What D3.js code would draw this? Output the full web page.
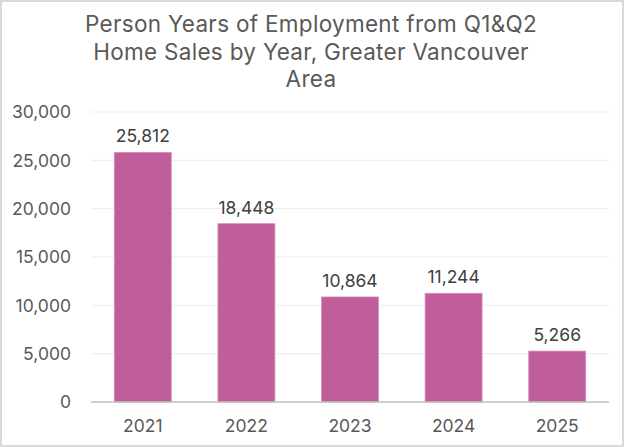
<!DOCTYPE html>
<html>
<head>
<meta charset="utf-8">
<script src="https://cdn.jsdelivr.net/npm/d3@7"></script>
<style>
  body { margin: 0; background: #fff; }
  svg { display: block; font-family: Inter, "Noto Sans", sans-serif; }
</style>
</head>
<body>
<svg id="chart"></svg>
<script>
// data
const years = ["2021", "2022", "2023", "2024", "2025"];
const personYears = [25812, 18448, 10864, 11244, 5266];
const yTicks = [0, 5000, 10000, 15000, 20000, 25000, 30000];
const titleLines = ["Person Years of Employment from Q1&Q2", "Home Sales by Year, Greater Vancouver", "Area"];

const width = 624, height = 447;
const margin = {top: 112, right: 15, bottom: 45, left: 91};

const svg = d3.select("#chart")
  .attr("width", width)
  .attr("height", height);

// outer frame
svg.append("rect")
  .attr("x", 1).attr("y", 1)
  .attr("width", width - 2).attr("height", height - 2)
  .attr("fill", "#fff")
  .attr("stroke", "#d9d9d9")
  .attr("stroke-width", 2);

// title
svg.append("text")
  .attr("text-anchor", "middle")
  .attr("fill", "#595959")
  .style("font-size", "22.5px")
  .style("letter-spacing", "0.3px")
  .selectAll("tspan")
  .data(titleLines)
  .enter()
  .append("tspan")
  .attr("x", 311)
  .attr("y", (d, i) => 32 + i * 27.5)
  .text(d => d);

const x = d3.scaleBand()
  .domain(years)
  .range([margin.left, width - margin.right])
  .paddingInner(0.45)
  .paddingOuter(0.225);

const y = d3.scaleLinear()
  .domain([0, 30000])
  .range([height - margin.bottom, margin.top]);

// gridlines
svg.append("g")
  .selectAll("line")
  .data(yTicks.slice(1))
  .enter()
  .append("line")
  .attr("x1", margin.left)
  .attr("x2", width - margin.right)
  .attr("y1", d => y(d))
  .attr("y2", d => y(d))
  .attr("stroke", "#ededed")
  .attr("stroke-width", 1);

// y axis labels
const fmt = d3.format(",");
svg.append("g")
  .selectAll("text")
  .data(yTicks)
  .enter()
  .append("text")
  .attr("x", 71)
  .attr("y", d => y(d))
  .attr("dy", "0.36em")
  .attr("text-anchor", "end")
  .attr("fill", "#595959")
  .style("font-size", "17.5px")
  .text(d => fmt(d));

// bars
svg.append("g")
  .selectAll("rect")
  .data(personYears)
  .enter()
  .append("rect")
  .attr("x", (d, i) => x(years[i]))
  .attr("y", d => y(d))
  .attr("width", x.bandwidth())
  .attr("height", d => y(0) - y(d))
  .attr("fill", "#bf5e9b")
  .attr("stroke", "#d88cbb")
  .attr("stroke-width", 0.8);

// value labels
svg.append("g")
  .selectAll("text")
  .data(personYears)
  .enter()
  .append("text")
  .attr("x", (d, i) => x(years[i]) + x.bandwidth() / 2)
  .attr("y", d => y(d) - 10)
  .attr("text-anchor", "middle")
  .attr("fill", "#404040")
  .style("font-size", "17.5px")
  .text(d => fmt(d));

// baseline
svg.append("line")
  .attr("x1", margin.left)
  .attr("x2", width - margin.right)
  .attr("y1", y(0))
  .attr("y2", y(0))
  .attr("stroke", "#bfbfbf")
  .attr("stroke-width", 1.5);

// x labels
svg.append("g")
  .selectAll("text")
  .data(years)
  .enter()
  .append("text")
  .attr("x", d => x(d) + x.bandwidth() / 2)
  .attr("y", 432)
  .attr("text-anchor", "middle")
  .attr("fill", "#595959")
  .style("font-size", "17.5px")
  .text(d => d);
</script>
</body>
</html>
